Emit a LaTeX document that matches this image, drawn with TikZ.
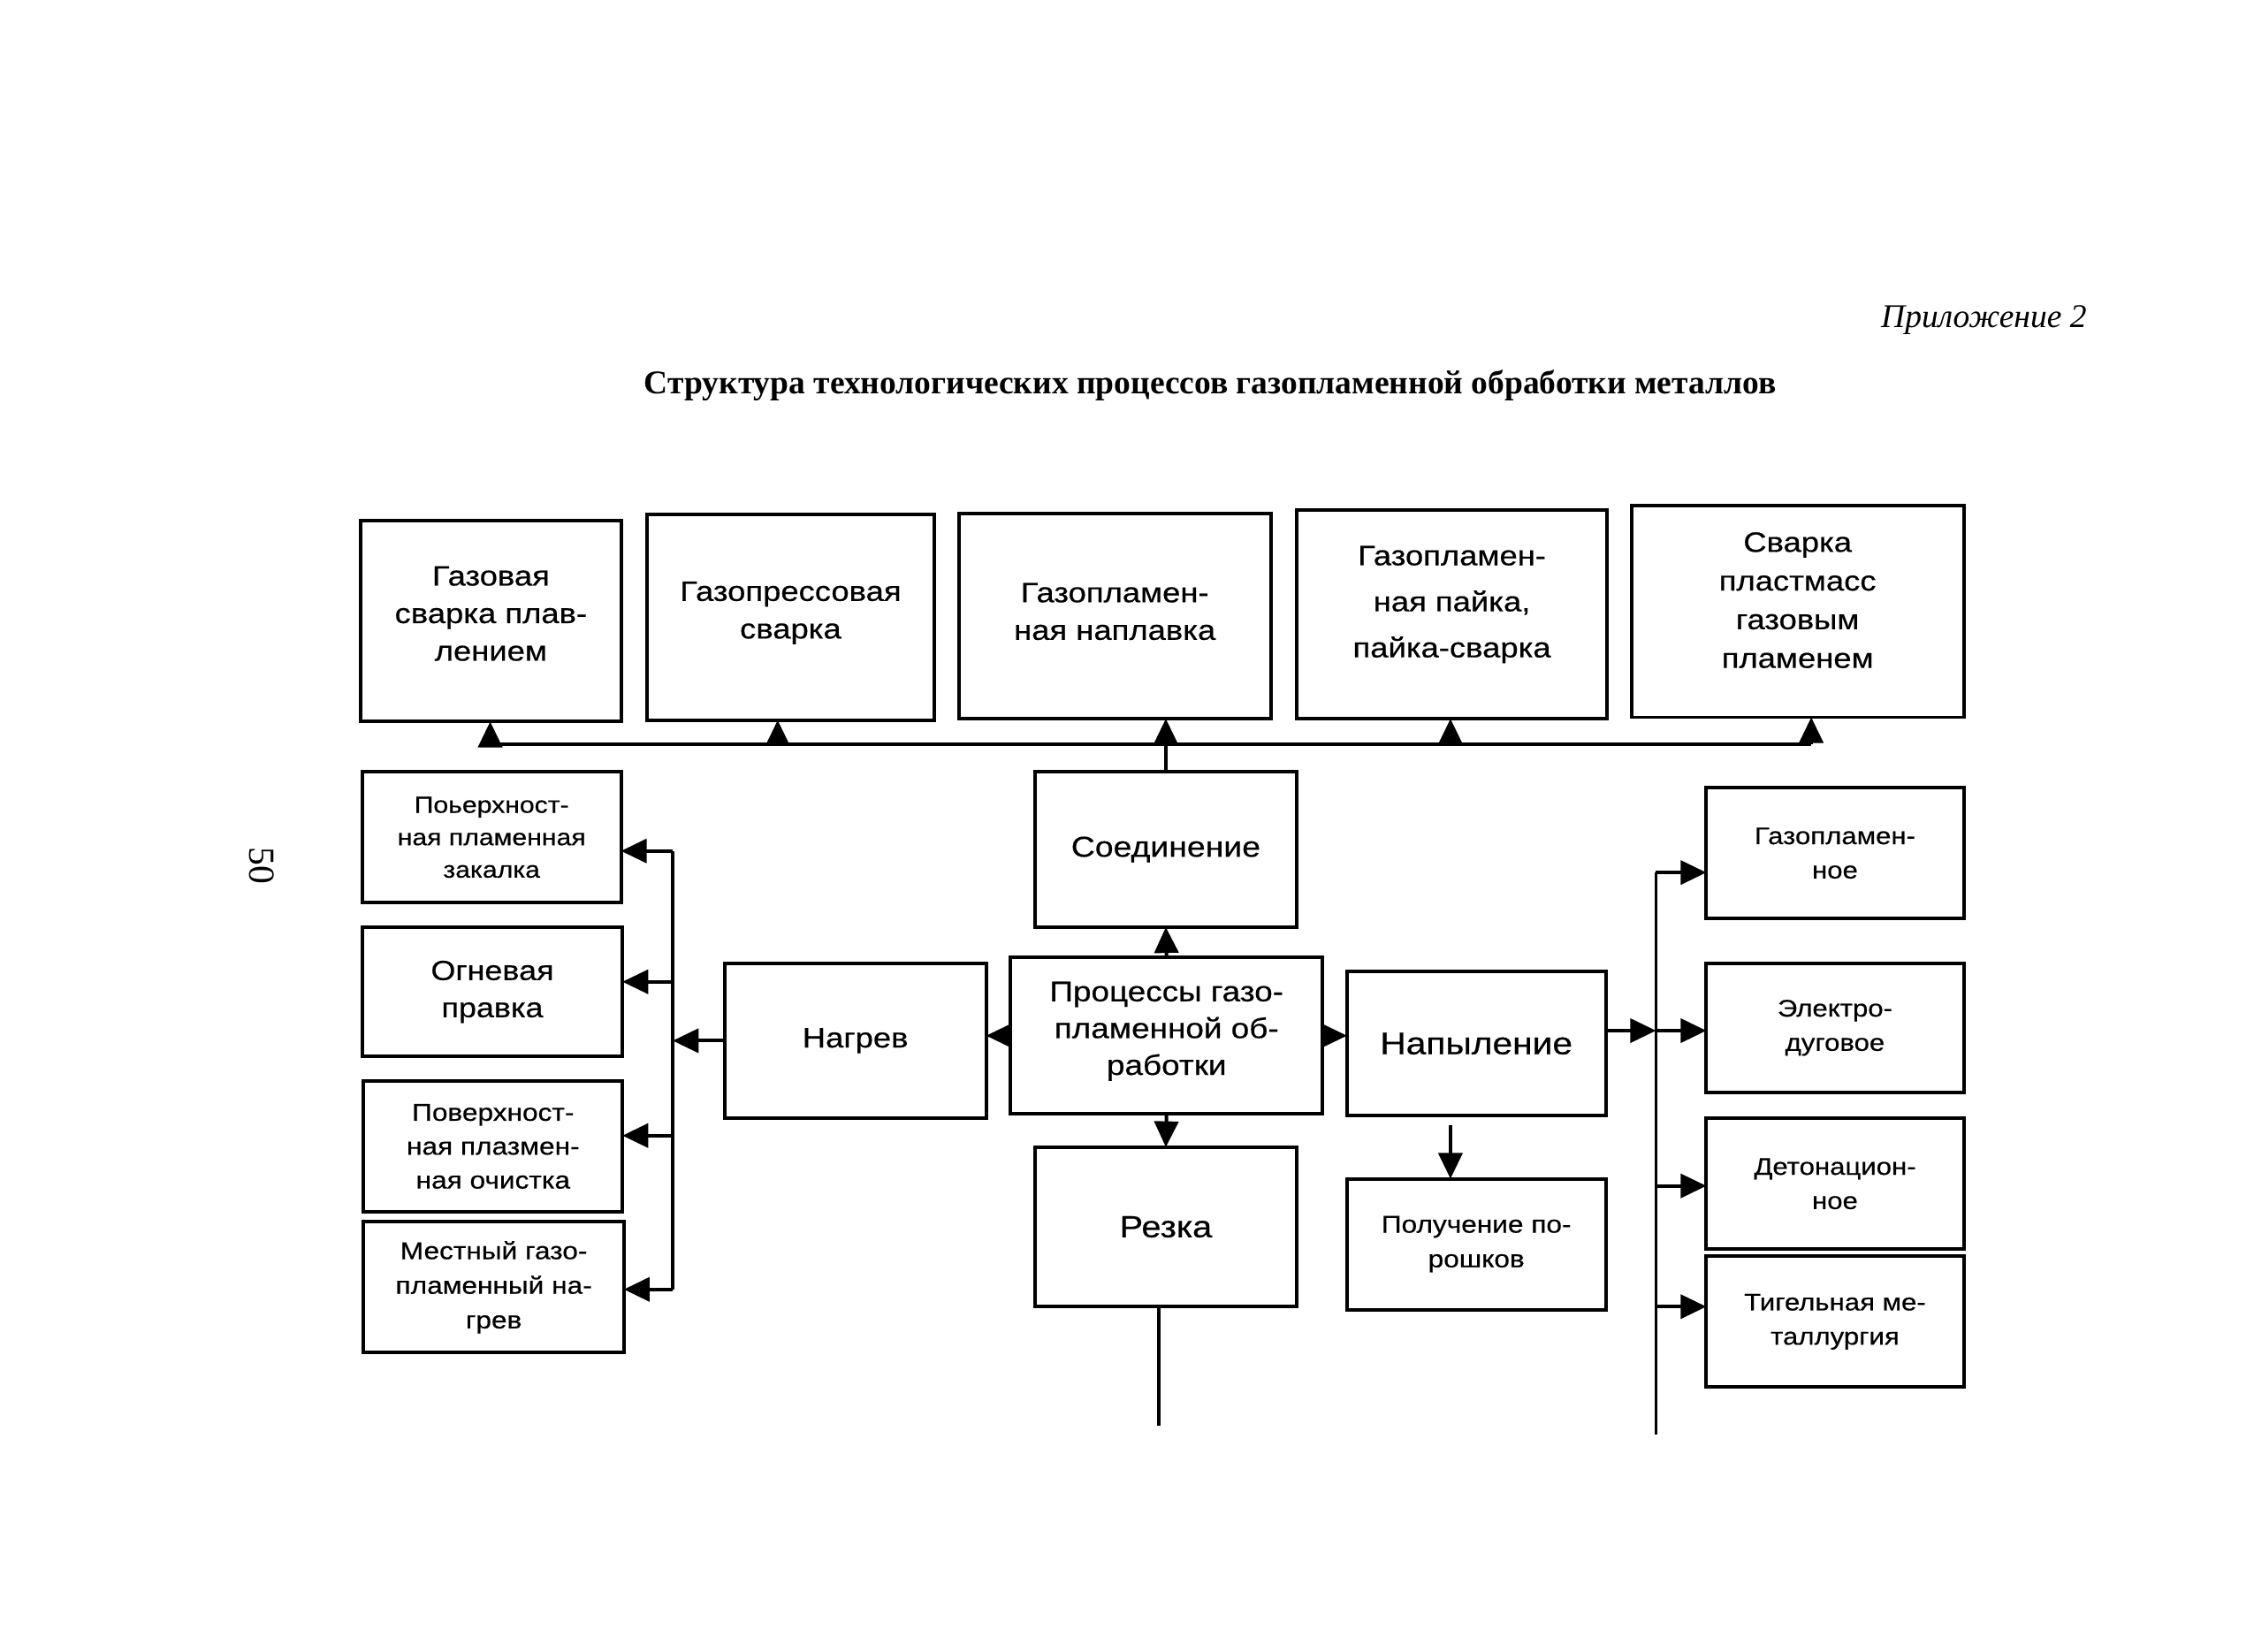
\documentclass[tikz,border=0pt]{standalone}
\usepackage{fontspec}
\setmainfont{Liberation Serif}
\newfontfamily\boxfont{Liberation Sans}[FakeStretch=1.15,FakeBold=0.5]
\usetikzlibrary{arrows.meta}
\newcommand\ux{0.390306pt}
\begin{document}
\begin{tikzpicture}[x=0.390306pt,y=-0.390306pt,
  box/.style={draw, rectangle, line width=0.95pt, inner sep=0pt, outer sep=0pt, align=center},
  txt/.style={inner sep=0pt, align=center},
  big/.style={font=\boxfont\fontsize{7.6}{10.2}\selectfont},
  small/.style={font=\boxfont\fontsize{6.5}{9.3}\selectfont},
  ln/.style={line width=0.95pt},
  arr/.style={line width=0.95pt, -{Triangle[length=7pt,width=6.5pt]}}]
\useasboundingbox (0,0) rectangle (1568,1149);

% header texts
\node[font=\itshape\fontsize{9}{11}\selectfont, anchor=base east, inner sep=0pt] (app) at (1452,228) {Приложение 2};
\node[font=\bfseries\fontsize{9}{11}\selectfont] (title) at (842,268) {Структура технологических процессов газопламенной обработки металлов};
\node[font=\fontsize{10}{12}\selectfont, rotate=-90] (pg) at (182,602) {50};

% top row
\node[box, minimum width=181*\ux, minimum height=140*\ux] (t1) at (341.5,432) {};
\node[txt, big] (t1x) at ([yshift=2pt]t1.center) {Газовая\\сварка плав-\\лением};
\node[box, minimum width=200*\ux, minimum height=143*\ux] (t2) at (550,429.5) {};
\node[txt, big] (t2x) at ([yshift=1.2pt]t2.center) {Газопрессовая\\сварка};
\node[box, minimum width=217*\ux, minimum height=143*\ux] (t3) at (775.5,428.5) {};
\node[txt, big] (t3x) at ([yshift=1.2pt]t3.center) {Газопламен-\\ная наплавка};
\node[box, minimum width=216*\ux, minimum height=145*\ux] (t4) at (1010,427.5) {};
\node[txt, font=\boxfont\fontsize{7.6}{12.5}\selectfont] (t4x) at ([yshift=2.7pt]t4.center) {Газопламен-\\ная пайка,\\пайка-сварка};
\node[box, minimum width=231*\ux, minimum height=147*\ux] (t5) at (1250.5,425.5) {};
\node[txt, font=\boxfont\fontsize{7.6}{10.5}\selectfont] (t5x) at ([yshift=3.1pt]t5.center) {Сварка\\пластмасс\\газовым\\пламенем};

% centre column
\node[box, font=\boxfont\fontsize{7.8}{10}\selectfont, minimum width=182*\ux, minimum height=108*\ux] (soed) at (811,591) {Соединение};
\node[box, minimum width=217*\ux, minimum height=109*\ux] (proc) at (811.5,720.5) {};
\node[txt, font=\boxfont\fontsize{7.7}{10}\selectfont] (procx) at ([yshift=1.2pt]proc.center) {Процессы газо-\\пламенной об-\\работки};
\node[box, font=\boxfont\fontsize{8.3}{10}\selectfont, minimum width=182*\ux, minimum height=111*\ux] (rezka) at (811,853.5) {Резка};
\node[box, font=\boxfont\fontsize{7.6}{10}\selectfont, minimum width=182*\ux, minimum height=108*\ux] (nagrev) at (595,724) {Нагрев};
\node[box, font=\boxfont\fontsize{8.5}{10}\selectfont, minimum width=180*\ux, minimum height=100*\ux] (nap) at (1027,726) {Напыление};
\node[box, font=\boxfont\fontsize{6.6}{9.4}\selectfont, minimum width=180*\ux, minimum height=91*\ux] (pol) at (1027,865.5) {Получение по-\\рошков};

% left column
\node[box, font=\boxfont\fontsize{6.3}{8.8}\selectfont, minimum width=180*\ux, minimum height=91*\ux] (l1) at (342,582.5) {Поьерхност-\\ная пламенная\\закалка};
\node[box, font=\boxfont\fontsize{7.5}{10.1}\selectfont, minimum width=181*\ux, minimum height=90*\ux] (l2) at (342.5,690) {Огневая\\правка};
\node[box, font=\boxfont\fontsize{6.6}{9.2}\selectfont, minimum width=180*\ux, minimum height=91*\ux] (l3) at (343,797.5) {Поверхност-\\ная плазмен-\\ная очистка};
\node[box, font=\boxfont\fontsize{6.6}{9.4}\selectfont, minimum width=181*\ux, minimum height=91*\ux] (l4) at (343.5,895.5) {Местный газо-\\пламенный на-\\грев};

% right column
\node[box, small, minimum width=179*\ux, minimum height=91*\ux] (r1) at (1276.5,593.5) {Газопламен-\\ное};
\node[box, small, minimum width=179*\ux, minimum height=90*\ux] (r2) at (1276.5,715) {Электро-\\дуговое};
\node[box, small, minimum width=179*\ux, minimum height=91*\ux] (r3) at (1276.5,823.5) {Детонацион-\\ное};
\node[box, small, minimum width=179*\ux, minimum height=91*\ux] (r4) at (1276.5,919.5) {Тигельная ме-\\таллургия};

% top bus
\coordinate (bl) at (341,518);
\coordinate (b2) at (541,518);
\coordinate (b4) at (1009,518);
\coordinate (br) at (1260,518);
\draw[ln] (bl) -- (br);
\draw[arr] (bl) -- (bl |- t1.south);
\draw[arr] (b2) -- (b2 |- t2.south);
\draw[arr] (soed.north) -- (soed.north |- t3.south);
\draw[arr] (b4) -- (b4 |- t4.south);
\draw[arr] (br) -- (br |- t5.south);

% centre arrows
\draw[arr] (proc.north) -- (soed.south);
\draw[arr] (proc.south) -- (rezka.north);
\draw[arr] (proc.west) -- (proc.west -| nagrev.east);
\draw[arr] (proc.east) -- (proc.east -| nap.west);
\coordinate (pt) at (1009,783);
\draw[arr] (pt) -- (pt |- pol.north);
\coordinate (rz) at (806,992);
\draw[ln] (rz |- rezka.south) -- (rz);

% left bus
\coordinate (la1) at (468,592);
\coordinate (la2) at (468,683);
\coordinate (la3) at (468,790);
\coordinate (la4) at (468,897);
\draw[ln] (la1) -- (la4);
\draw[arr] (nagrev.west) -- (nagrev.west -| la1);
\draw[arr] (la1) -- (la1 -| l1.east);
\draw[arr] (la2) -- (la2 -| l2.east);
\draw[arr] (la3) -- (la3 -| l3.east);
\draw[arr] (la4) -- (la4 -| l4.east);

% right bus
\coordinate (ra1) at (1152,607);
\coordinate (ra2) at (1152,717);
\coordinate (ra3) at (1152,825);
\coordinate (ra4) at (1152,909);
\coordinate (rend) at (1152,998);
\draw[ln] (ra1) -- (rend);
\draw[arr] (nap.east |- ra2) -- (ra2);
\draw[arr] (ra1) -- (ra1 -| r1.west);
\draw[arr] (ra2) -- (ra2 -| r2.west);
\draw[arr] (ra3) -- (ra3 -| r3.west);
\draw[arr] (ra4) -- (ra4 -| r4.west);
\end{tikzpicture}
\end{document}
